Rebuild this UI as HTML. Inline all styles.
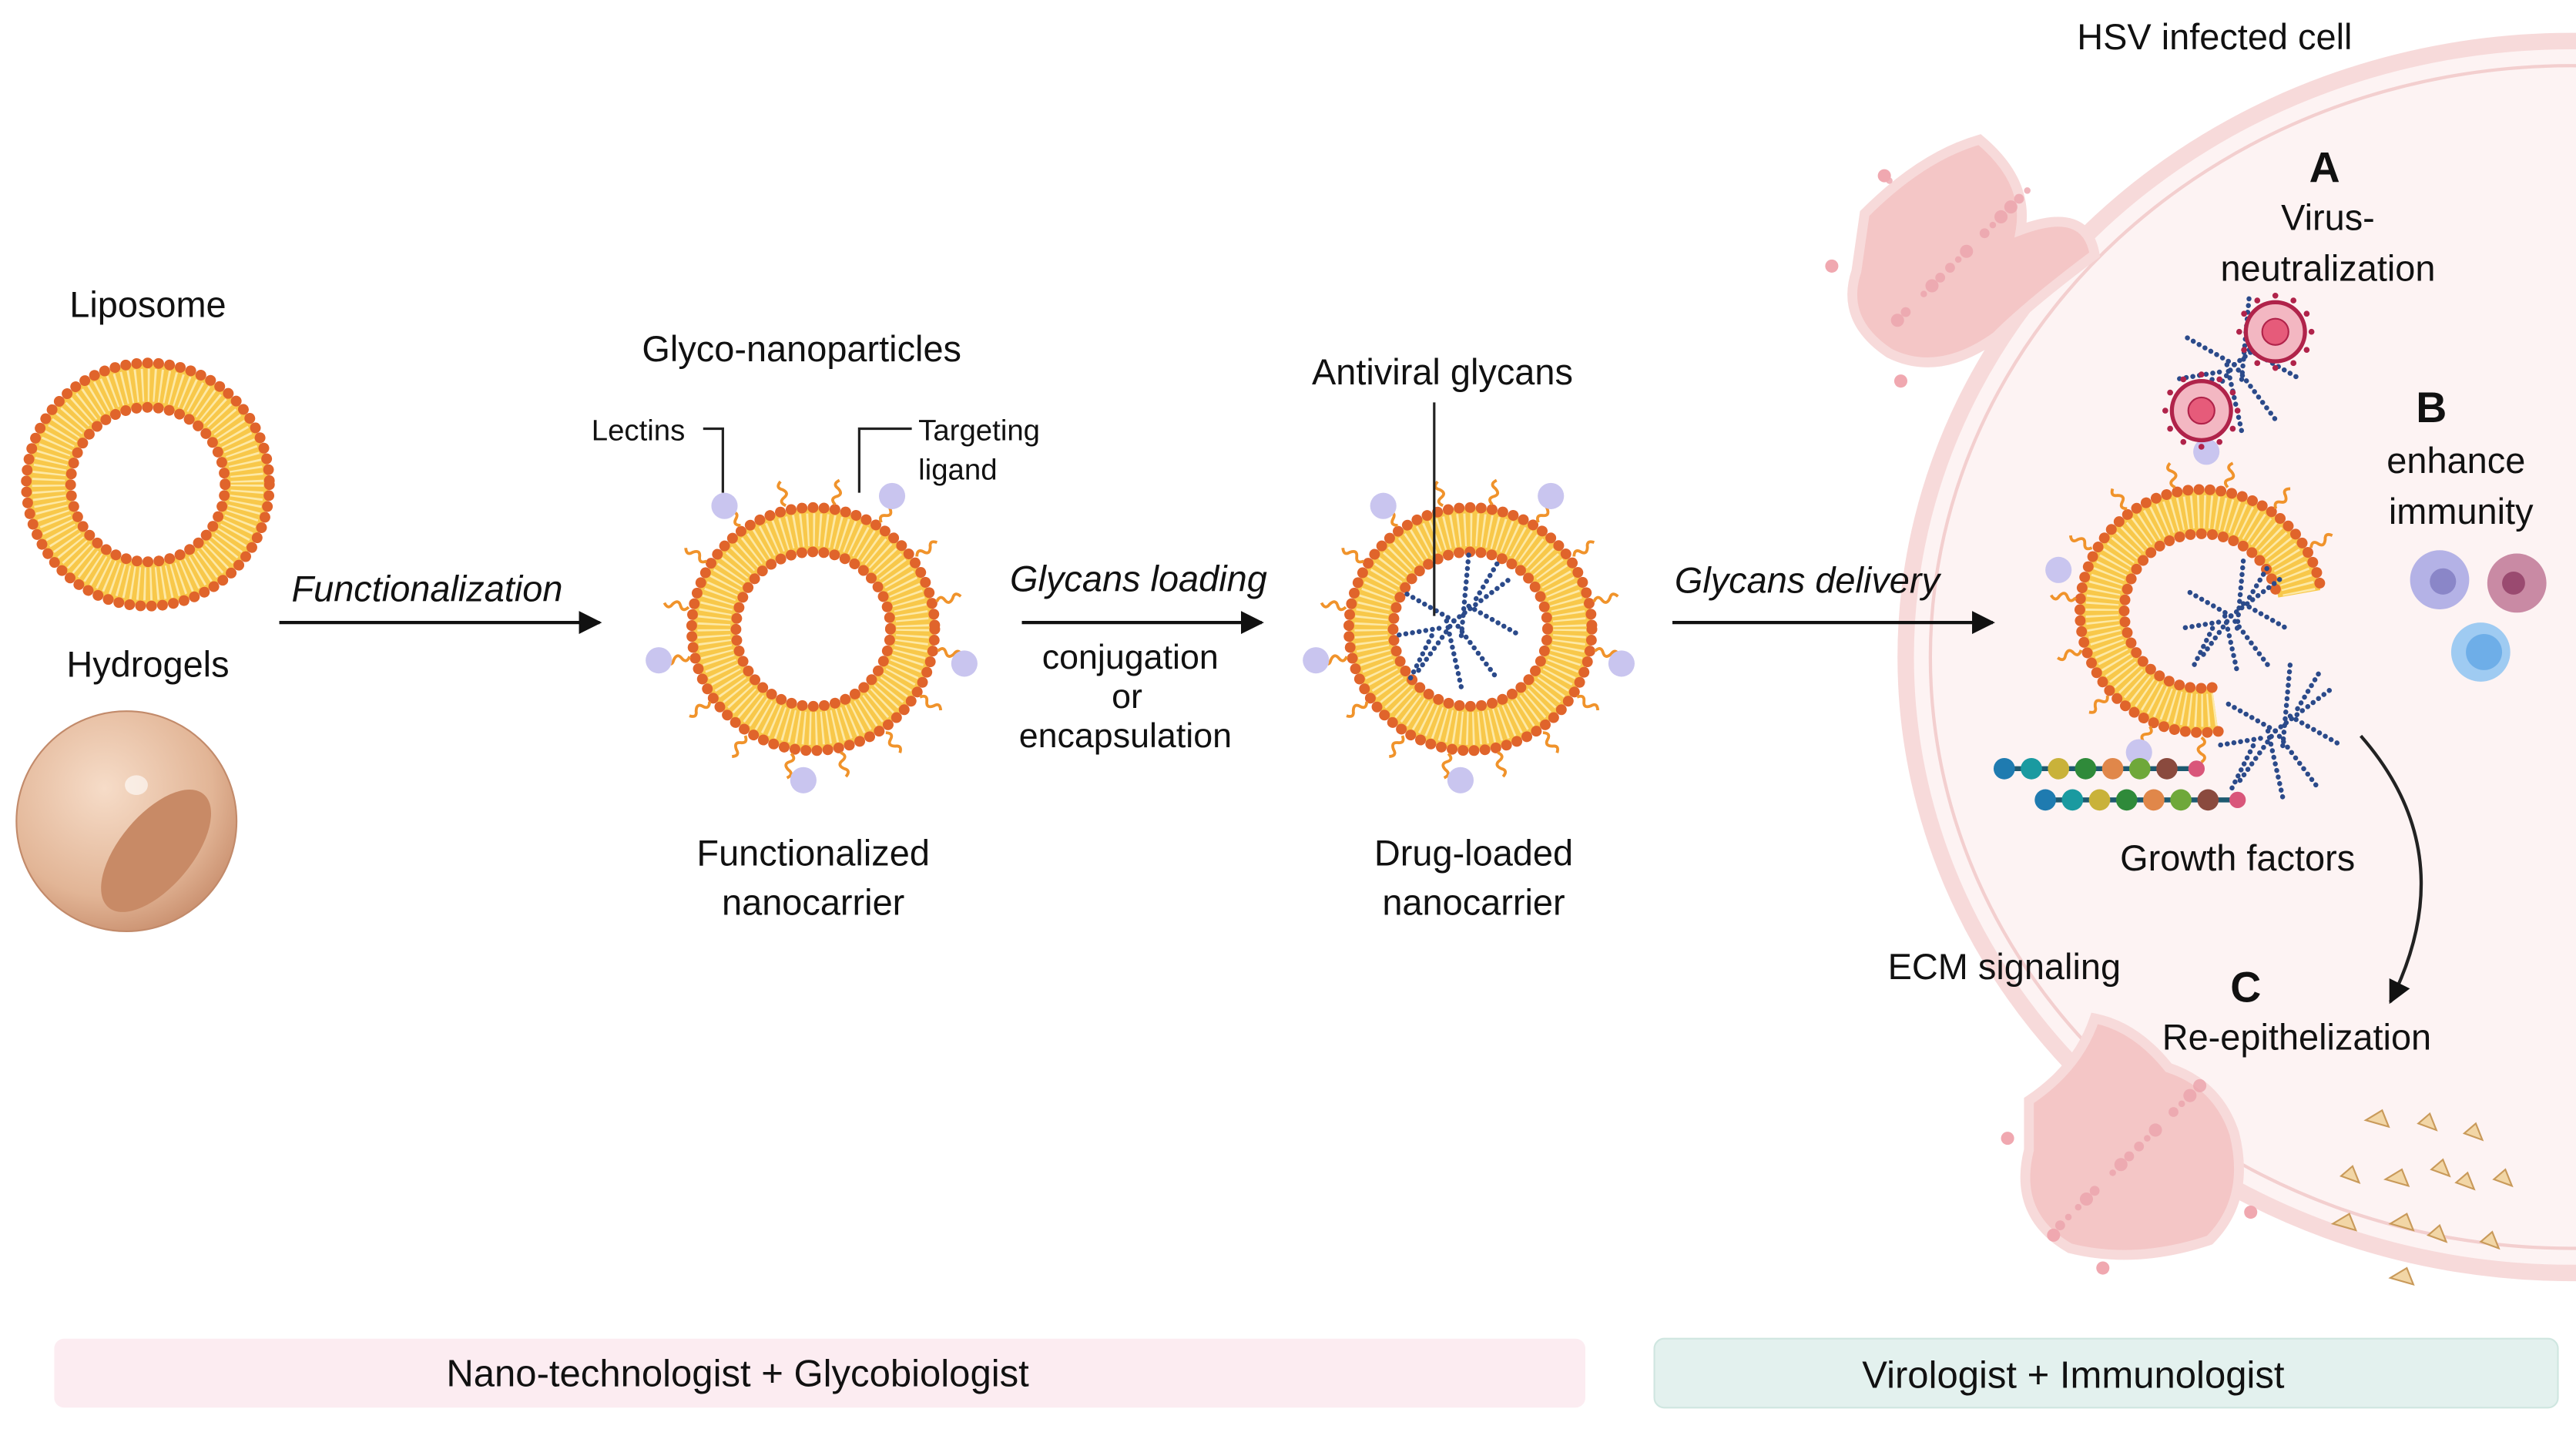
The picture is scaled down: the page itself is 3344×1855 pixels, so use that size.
<!DOCTYPE html>
<html><head><meta charset="utf-8"><style>
html,body{margin:0;padding:0;background:#fff;width:3344px;height:1855px;overflow:hidden}
svg{display:block}
text{font-family:"Liberation Sans",sans-serif;fill:#111}
</style></head><body>
<svg id="s" width="3344" height="1855" viewBox="0 0 1568 870" preserveAspectRatio="none" xmlns="http://www.w3.org/2000/svg">
<defs>
<radialGradient id="hg" cx="0.4" cy="0.35" r="0.7"><stop offset="0" stop-color="#f6dcc8"/><stop offset="0.7" stop-color="#e2b596"/><stop offset="1" stop-color="#c98f6e"/></radialGradient>
<marker id="ar" viewBox="0 0 10 10" refX="9" refY="5" markerWidth="7" markerHeight="7" orient="auto"><path d="M0,0L10,5L0,10z" fill="#111"/></marker>
</defs>
<ellipse cx="1565" cy="400" rx="405" ry="375" fill="#fdf3f3" stroke="#f7dada" stroke-width="10"/>
<ellipse cx="1565" cy="400" rx="390" ry="360" fill="none" stroke="#f3cfcf" stroke-width="2"/>
<g id="deco"></g>
<rect x="33" y="815" width="932" height="42" rx="6" fill="#fcecf1"/>
<rect x="1007" y="815" width="550" height="42" rx="6" fill="#e3f1ee" stroke="#cfe6e0"/>
<text x="449" y="844" font-size="23" text-anchor="middle">Nano-technologist + Glycobiologist</text>
<text x="1262" y="845" font-size="23" text-anchor="middle">Virologist +  Immunologist</text>
<line x1="170" y1="379" x2="365" y2="379" stroke="#111" stroke-width="2" marker-end="url(#ar)"/>
<line x1="622" y1="379" x2="768" y2="379" stroke="#111" stroke-width="2" marker-end="url(#ar)"/>
<line x1="1018" y1="379" x2="1213" y2="379" stroke="#111" stroke-width="2" marker-end="url(#ar)"/>
<path d="M1437,448 Q1500,520 1455,610" fill="none" stroke="#222" stroke-width="2" marker-end="url(#ar)"/>
<polyline points="428,261 440,261 440,300" fill="none" stroke="#222" stroke-width="1.5"/>
<polyline points="555,261 523,261 523,300" fill="none" stroke="#222" stroke-width="1.5"/>
<line x1="873" y1="245" x2="873" y2="375" stroke="#222" stroke-width="1.5"/>
<g font-size="22" text-anchor="middle">
<text x="90" y="193">Liposome</text>
<text x="90" y="412">Hydrogels</text>
<text x="488" y="220">Glyco-nanoparticles</text>
<text x="878" y="234">Antiviral glycans</text>
<text x="260" y="366" font-style="italic">Functionalization</text>
<text x="693" y="360" font-style="italic">Glycans loading</text>
<text x="1100" y="361" font-style="italic">Glycans delivery</text>
<text x="688" y="407" font-size="21">conjugation</text>
<text x="686" y="431" font-size="21">or</text>
<text x="685" y="455" font-size="21">encapsulation</text>
<text x="495" y="527">Functionalized</text>
<text x="495" y="557">nanocarrier</text>
<text x="897" y="527">Drug-loaded</text>
<text x="897" y="557">nanocarrier</text>
<text x="1348" y="30">HSV infected cell</text>
<text x="1415" y="111" font-weight="bold" font-size="26">A</text>
<text x="1417" y="140">Virus-</text>
<text x="1417" y="171">neutralization</text>
<text x="1480" y="257" font-weight="bold" font-size="26">B</text>
<text x="1495" y="288">enhance</text>
<text x="1498" y="319">immunity</text>
<text x="1362" y="530">Growth factors</text>
<text x="1220" y="596">ECM signaling</text>
<text x="1367" y="610" font-weight="bold" font-size="26">C</text>
<text x="1398" y="639">Re-epithelization</text>
</g>
<g font-size="18">
<text x="360" y="268">Lectins</text>
<text x="559" y="268">Targeting</text>
<text x="559" y="292">ligand</text>
</g>
</svg>
<script>
var NS="http://www.w3.org/2000/svg",g=document.getElementById('deco');
function el(t,a,p){var e=document.createElementNS(NS,t);for(var k in a)e.setAttribute(k,a[k]);(p||g).appendChild(e);return e;}
function ring(cx,cy,a0,a1,lig){var ro=74,ri=47;
 var full=a1-a0>=360;
 var d=function(r){var s=a0*Math.PI/180,e=a1*Math.PI/180;return "M"+(cx+r*Math.cos(s))+","+(cy+r*Math.sin(s))+" A"+r+","+r+" 0 "+((a1-a0)>180?1:0)+" 1 "+(cx+r*Math.cos(e))+","+(cy+r*Math.sin(e));};
 function arc(r,att){if(full){att.cx=cx;att.cy=cy;att.r=r;att.fill="none";return el('circle',att);}att.d=d(r);att.fill="none";return el('path',att);}
 arc(60.5,{stroke:"#f8c84a","stroke-width":26});
 arc(60.5,{stroke:"#fde9a6","stroke-width":20,"stroke-dasharray":"1.2 2.5"});
 arc(ro,{stroke:"#e0642b","stroke-width":6.5,"stroke-dasharray":"0.1 6.6","stroke-linecap":"round"});
 arc(ri,{stroke:"#e0642b","stroke-width":6.5,"stroke-dasharray":"0.1 6.6","stroke-linecap":"round"});
 if(lig){var st=full?22.5:24;for(var a=a0+(full?10:8);a<a1;a+=st){
  el('path',{d:"M0,0 q-4,-3 0,-5 q4,-2 0,-5 q-4,-2 0,-5",fill:"none",stroke:"#f0932b","stroke-width":1.8,
   transform:"translate("+(cx+77*Math.cos(a*Math.PI/180))+","+(cy+77*Math.sin(a*Math.PI/180))+") rotate("+(a+90)+")"});}}
}
function lectin(x,y){el('circle',{cx:x,cy:y,r:8,fill:"#c9c5ef"});}
function glycan(cx,cy,sc){var br=[[0,0,40,-30],[0,0,-35,-20],[0,0,30,40],[0,0,-25,35],[10,-10,45,10],[-10,5,-40,10],[5,10,10,-45],[-5,0,5,45],[15,-15,30,-40],[-15,10,-30,40]];
 br.forEach(function(b){el('line',{x1:cx+b[0]*sc,y1:cy+b[1]*sc,x2:cx+b[2]*sc,y2:cy+b[3]*sc,stroke:"#2b4a8a","stroke-width":3,"stroke-dasharray":"0.1 4","stroke-linecap":"round"});});}
ring(90,295,0,360,false);
el('circle',{cx:77,cy:500,r:67,fill:"url(#hg)",stroke:"#c28a6a","stroke-width":1});
el('ellipse',{cx:95,cy:518,rx:22,ry:45,fill:"#c88a66",transform:"rotate(40 95 518)"});
el('ellipse',{cx:83,cy:478,rx:7,ry:6,fill:"#fff",opacity:0.6});
ring(495,383,0,360,true);
[[441,308],[543,302],[401,402],[587,404],[489,475]].forEach(function(p){lectin(p[0],p[1]);});
ring(895,383,0,360,true);
[[842,308],[944,302],[801,402],[987,404],[889,475]].forEach(function(p){lectin(p[0],p[1]);});
glycan(885,378,0.9);
ring(1340,372,82,350,true);
lectin(1253,347);lectin(1302,458);lectin(1343,275);
glycan(1358,375,0.75);glycan(1385,445,0.9);glycan(1360,222,0.9);
function virus(x,y){el('circle',{cx:x,cy:y,r:18,fill:"#f3b7c2",stroke:"#b0234a","stroke-width":2.5});for(var a=0;a<360;a+=30){var r=a*Math.PI/180;el('circle',{cx:x+22*Math.cos(r),cy:y+22*Math.sin(r),r:1.8,fill:"#b0234a"});}
 el('circle',{cx:x,cy:y,r:8,fill:"#e65b7a",stroke:"#b0234a"});}
virus(1385,202);virus(1340,250);
var cols=["#1f7bb0","#1a9aa0","#c9b23a","#2f8a3a","#e0874a","#6fa83a","#8a4a3e"];
function beads(x0,y){el('line',{x1:x0,y1:y,x2:x0+115,y2:y,stroke:"#1e5a70","stroke-width":3});cols.forEach(function(c,i){el('circle',{cx:x0+i*16.5,cy:y,r:6.5,fill:c});});el('circle',{cx:x0+117,cy:y,r:5,fill:"#d9567a"});}
beads(1220,468);beads(1245,487);
el('circle',{cx:1485,cy:353,r:18,fill:"#b4b2e6"});el('circle',{cx:1487,cy:354,r:8,fill:"#8a86c8"});
el('circle',{cx:1532,cy:355,r:18,fill:"#c98aa4"});el('circle',{cx:1530,cy:355,r:7,fill:"#9a4a70"});
el('circle',{cx:1510,cy:397,r:18,fill:"#9fcbf2"});el('circle',{cx:1512,cy:397,r:11,fill:"#6eaee8"});
el('path',{d:"M1135,130 Q1170,95 1205,85 Q1235,110 1230,140 Q1270,125 1275,155 Q1235,185 1215,205 Q1180,230 1150,215 Q1120,195 1130,165 Z",fill:"#f4c6c6",stroke:"#f7dada","stroke-width":6});
el('path',{d:"M1235,670 Q1265,650 1275,620 Q1300,625 1320,650 Q1350,660 1360,690 Q1370,730 1345,755 Q1300,770 1260,760 Q1225,740 1235,700 Z",fill:"#f4c6c6",stroke:"#f7dada","stroke-width":6});
for(var i=0;i<30;i++){var bx=(i<15?1150:1250)+((i*37)%90),by=(i<15?110:660)+((i*53)%90);el('circle',{cx:bx,cy:by,r:2+(i%3),fill:"#eba2ab",opacity:0.8});}
[[1147,107],[1157,232],[1115,162],[1222,693],[1250,752],[1280,772],[1370,738]].forEach(function(p){el('circle',{cx:p[0],cy:p[1],r:4,fill:"#f0a8b0"});});
[[1440,682],[1472,684],[1500,690],[1452,718],[1480,712],[1495,720],[1455,745],[1425,716],[1478,752],[1420,745],[1518,718],[1510,756],[1455,778]].forEach(function(p,i){el('path',{d:"M"+p[0]+","+p[1]+" l"+(i%3?7:10)+",-6 l4,10 z",fill:"#f2d6a6",stroke:"#c99a5a","stroke-width":1});});
</script>
</body></html>
